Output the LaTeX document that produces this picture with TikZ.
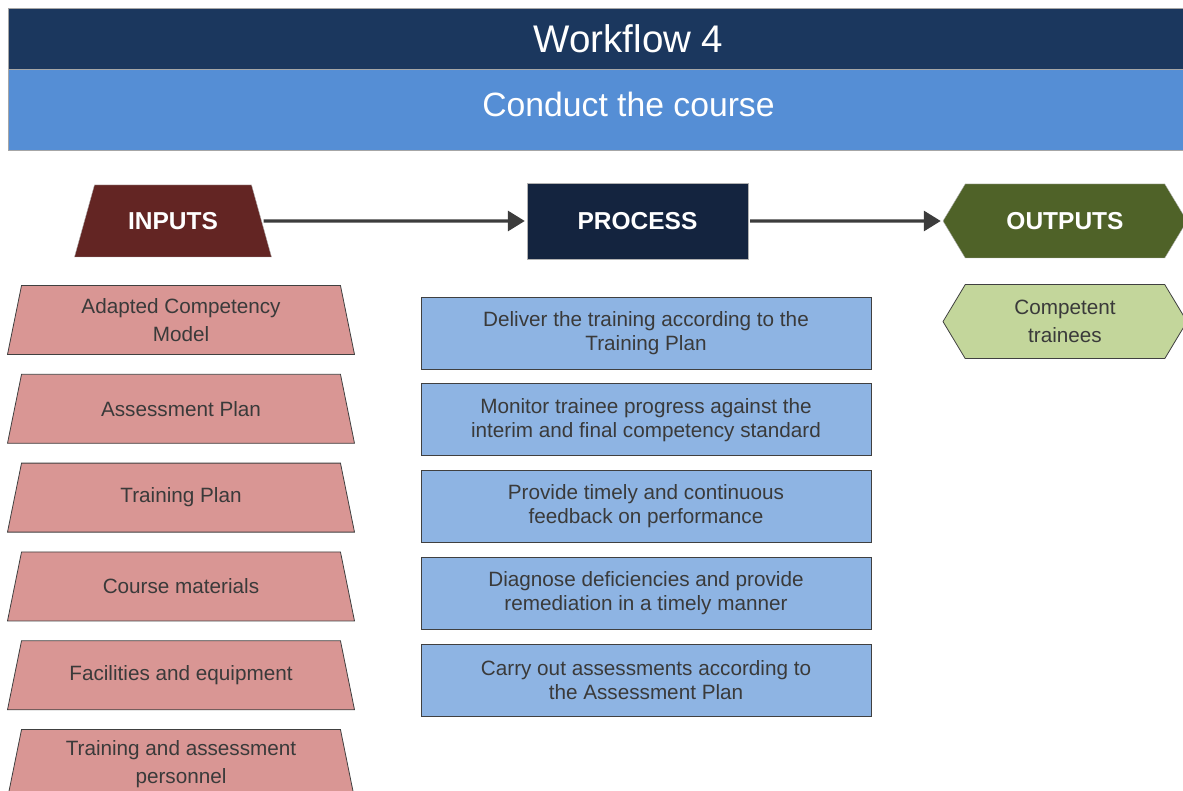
\documentclass[tikz,border=0pt]{standalone}
\usepackage{fontspec}
\setmainfont{Liberation Sans}
\usepackage{tikz}
\usetikzlibrary{shapes, shapes.geometric, shapes.symbols, arrows.meta, positioning}

\definecolor{bandDark}{HTML}{1B375E}
\definecolor{bandLight}{HTML}{558ED5}
\definecolor{inHead}{HTML}{632523}
\definecolor{procHead}{HTML}{14243F}
\definecolor{outHead}{HTML}{4F6228}
\definecolor{inFill}{HTML}{D99694}
\definecolor{procFill}{HTML}{8EB4E3}
\definecolor{outFill}{HTML}{C3D69B}
\definecolor{lineGray}{HTML}{3C3C3C}
\definecolor{txtGray}{HTML}{3A3A3A}

\newcommand{\wfbody}{\fontsize{20.7pt}{28pt}\selectfont}
\newcommand{\wfhead}{\fontsize{24.5pt}{28pt}\selectfont\bfseries}

\tikzset{
    band/.style={draw=gray!70, line width=1pt, anchor=north west, minimum width=1240pt, inner sep=0pt, text=white},
    inhead/.style={trapezium, trapezium stretches body=true, trapezium left angle=74.5, trapezium right angle=74.5, fill=inHead, draw=gray!60, minimum width=197pt, text height=18pt, text depth=0pt, inner xsep=0pt, inner ysep=27pt, text=white, font=\wfhead},
    prochead/.style={rectangle, fill=procHead, draw=gray!60, minimum width=221pt, minimum height=76pt, inner sep=0pt, text=white, font=\wfhead},
    outhead/.style={signal, signal to=west and east, signal pointer angle=118, fill=outHead, draw=gray!60, minimum width=244pt, minimum height=74pt, inner sep=0pt, text=white, font=\wfhead},
    inbox/.style={trapezium, trapezium stretches body=true, trapezium left angle=78.5, trapezium right angle=78.5, fill=inFill, draw=black!75, line width=0.8pt, minimum width=347pt, inner xsep=0pt, inner ysep=11.5pt, text=txtGray, font=\wfbody,
        execute at begin node={\begin{minipage}[c][46pt][c]{300pt}\centering}, execute at end node={\end{minipage}}},
    procbox/.style={rectangle, fill=procFill, draw=black!75, line width=0.8pt, minimum width=450pt, minimum height=72pt, inner sep=0pt, align=center, text=txtGray, font=\fontsize{20.7pt}{24pt}\selectfont},
    outbox/.style={signal, signal to=west and east, signal pointer angle=118, fill=outFill, draw=black!75, line width=0.8pt, minimum width=244pt, minimum height=74pt, inner sep=0pt, align=center, text=txtGray, font=\wfbody},
    flow/.style={-{Triangle[length=17pt,width=20pt]}, line width=3.2pt, draw=lineGray, shorten <=2pt, shorten >=2pt}
}

\begin{document}
\begin{tikzpicture}[x=1pt, y=-1pt, node distance=19pt]
    \useasboundingbox (0,0) rectangle (1183,791);

    % Header
    \node (title) [band, fill=bandDark, minimum height=61pt, font=\fontsize{38.5pt}{40pt}\selectfont] at (8,8) {Workflow 4};
    \node (subtitle) [band, fill=bandLight, minimum height=81pt, text depth=11pt, font=\fontsize{33.7pt}{36pt}\selectfont] at (8,69) {Conduct the course};

    % Nodes
    \node (inputs) [inhead] at (173,221) {INPUTS};
    \node (process) [prochead] at (637.5,221) {PROCESS};
    \node (outputs) [outhead] at (1065,221) {OUTPUTS};

    \node (competency) [inbox] at (181,320) {Adapted Competency\\Model};
    \node (assessplan) [inbox, below=of competency] {Assessment Plan};
    \node (trainplan) [inbox, below=of assessplan] {Training Plan};
    \node (materials) [inbox, below=of trainplan] {Course materials};
    \node (facilities) [inbox, below=of materials] {Facilities and equipment};
    \node (personnel) [inbox, below=of facilities] {Training and assessment\\personnel};

    \node (deliver) [procbox] at (646,333) {Deliver the training according to the\\Training Plan};
    \node (monitor) [procbox, below=14pt of deliver] {Monitor trainee progress against the\\interim and final competency standard};
    \node (feedback) [procbox, below=14pt of monitor] {Provide timely and continuous\\feedback on performance};
    \node (diagnose) [procbox, below=14pt of feedback] {Diagnose deficiencies and provide\\remediation in a timely manner};
    \node (assess) [procbox, below=14pt of diagnose] {Carry out assessments according to\\the Assessment Plan};

    \node (trainees) [outbox, below=26pt of outputs] {Competent\\trainees};

    % Edges
    \draw[flow] (inputs) -- (process);
    \draw[flow] (process) -- (outputs);
\end{tikzpicture}
\end{document}
